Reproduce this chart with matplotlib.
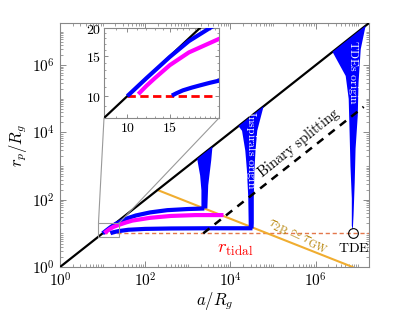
import matplotlib
matplotlib.use("Agg")
import matplotlib.pyplot as plt
import numpy as np
from matplotlib.patches import Rectangle, ConnectionPatch
from matplotlib.ticker import FixedLocator, FixedFormatter, LogLocator, NullFormatter

plt.rcParams['mathtext.fontset'] = 'cm'
plt.rcParams['font.family'] = 'serif'
plt.rcParams['font.serif'] = ['DejaVu Serif']

# ---- data (a/R_g, r_p/R_g) ----
diag_a = [1, 1.8e7]
split_a = [2300, 1.35e7]
split_r = [10, 5.8e4]
tau_a = [195, 7.4e6]
tau_r = [195, 1]
tidal_a = [10, 1.8e7]
tidal_r = [10, 10]

top_a = [10, 12, 15, 18, 22, 35, 60, 130, 330, 1000, 2450]
top_r = [10, 12, 14.9, 17.5, 20, 27, 34, 42, 49, 53, 55]
mag_a = [11.1, 12, 13, 15, 18, 24, 35, 50, 130, 400, 1500, 6900]
mag_r = [10.2, 11.1, 12.0, 13.7, 15.6, 17.9, 21, 24, 29, 33, 35, 35]
low_a = [15.3, 16, 17, 18.5, 20, 22, 24, 40, 100, 400, 3000, 33000]
low_r = [10.05, 10.3, 10.6, 10.9, 11.15, 11.45, 11.7, 12.8, 13.6, 14, 14.2, 14.2]

fan1_left_a = [2090, 2090, 1950, 1660]
fan1_left_r = [55, 190, 525, 1660]
fan1_right_a = [3800, 3550, 3020, 2880]
fan1_right_r = [3800, 1480, 270, 55]

fan2_left_a = [27000, 26900, 26300, 24500, 22400, 18800, 15500]
fan2_left_r = [14, 20, 117, 740, 2880, 11200, 15500]
fan2_right_a = [60300, 42700, 38900, 36700, 35500, 35500, 35000]
fan2_right_r = [60300, 11200, 2880, 740, 117, 20, 14]

fan3_left_a = [7.4e6, 7.1e6, 7.1e6, 6.6e6, 6.3e6, 6.0e6, 5.1e6, 2.5e6]
fan3_left_r = [13, 17, 110, 1e3, 1e4, 1e5, 4.8e5, 2.5e6]
fan3_right_a = [1.5e7, 1.15e7, 1.02e7, 9.8e6, 8.7e6, 8.3e6, 7.8e6, 7.5e6]
fan3_right_r = [1.5e7, 3e6, 3e5, 3.2e4, 3.3e3, 320, 35, 13]

tde_a = [7.6e6]
tde_r = [10]

fig = plt.figure(figsize=(4.15, 3.12), dpi=100)
ax = fig.add_axes([0.1446, 0.1442, 0.7446, 0.782])
ax.set_xscale('log')
ax.set_yscale('log')
ax.set_xlim(1, 1.8e7)
ax.set_ylim(1, 1.8e7)

ax.plot(diag_a, diag_a, color='k', lw=1.6, zorder=3)
ax.plot(tidal_a, tidal_r, color='#e4774c', lw=1.0, dashes=(3, 2), zorder=2)
ax.plot(tau_a, tau_r, color='#f0ad30', lw=1.5, zorder=2)
ax.plot(split_a, split_r, color='k', lw=1.8, dashes=(3.2, 2.6), zorder=4)

for la, lr, ra, rr in [(fan1_left_a, fan1_left_r, fan1_right_a, fan1_right_r),
                       (fan2_left_a, fan2_left_r, fan2_right_a, fan2_right_r),
                       (fan3_left_a, fan3_left_r, fan3_right_a, fan3_right_r)]:
    ax.fill(la + ra, lr + rr, color='#0000ff', lw=0, zorder=3)

ax.plot(top_a, top_r, color='#0000ff', lw=3, zorder=3, solid_capstyle='butt')
ax.plot(mag_a, mag_r, color='#ff00ff', lw=3, zorder=3, solid_capstyle='butt')
ax.plot(low_a, low_r, color='#0000ff', lw=3, zorder=3, solid_capstyle='butt')
ax.plot(tde_a, tde_r, 'o', mfc='none', mec='k', ms=7, mew=0.8, zorder=5)

ax.text(4.0e5, 5.0e3, r'$\mathrm{Binary\ splitting}$', rotation=39, fontsize=10.5,
        ha='center', va='center')
ax.text(3.0e4, 2.9e3, r'$\mathrm{Inspirals\ origin}$', rotation=-90, fontsize=8.5,
        color='white', ha='center', va='center', zorder=6)
ax.text(7.6e6, 5.9e5, r'$\mathrm{TDEs\ origin}$', rotation=-90, fontsize=8.5,
        color='white', ha='center', va='center', zorder=6)
ax.text(1.3e4, 3.4, r'$r_{\rm tidal}$', fontsize=13.5, color='#ff0000',
        ha='center', va='center')
ax.text(3.8e5, 8.0, r'$\tau_{\rm 2B}\simeq\tau_{\rm GW}$', rotation=-25, fontsize=11,
        color='#b8860b', ha='center', va='center')
ax.text(7.8e6, 3.7, r'$\mathrm{TDE}$', fontsize=10, ha='center', va='center')

ax.set_xlabel(r'$a/R_g$', fontsize=12, labelpad=0)
ax.set_ylabel(r'$r_p/R_g$', fontsize=12, labelpad=2)

majors = [1, 1e2, 1e4, 1e6]
major_labels = [r'$10^{0}$', r'$10^{2}$', r'$10^{4}$', r'$10^{6}$']
for axis in [ax.xaxis, ax.yaxis]:
    axis.set_major_locator(FixedLocator(majors))
    axis.set_major_formatter(FixedFormatter(major_labels))
    axis.set_minor_locator(LogLocator(base=10, subs=np.arange(1, 10), numticks=30))
    axis.set_minor_formatter(NullFormatter())
ax.tick_params(which='both', direction='in', top=True, right=True, colors='#777777',
               labelcolor='k', labelsize=11)
ax.tick_params(which='major', length=4, width=0.6)
ax.tick_params(which='minor', length=2, width=0.5)
for s in ax.spines.values():
    s.set_color('#888888')
    s.set_linewidth(0.8)

# zoom box
box_x = [8, 24]
box_y = [8, 20]
ax.add_patch(Rectangle((box_x[0], box_y[0]), box_x[1] - box_x[0], box_y[1] - box_y[0],
                       fill=False, ec='#999999', lw=0.8, zorder=4))

# inset
axins = fig.add_axes([104 / 415, 1 - 118 / 312, 115 / 415, 90 / 312])
axins.set_xscale('log')
axins.set_yscale('log')
axins.plot(diag_a, diag_a, color='k', lw=1.6, zorder=3)
axins.plot([10, 22.5], [10, 10], color='#ff0000', lw=2, dashes=(3, 1.6), zorder=2)
axins.plot(top_a, top_r, color='#0000ff', lw=3, zorder=3, solid_capstyle='butt')
axins.plot(mag_a, mag_r, color='#ff00ff', lw=3, zorder=3, solid_capstyle='butt')
axins.plot(low_a, low_r, color='#0000ff', lw=3, zorder=3, solid_capstyle='butt')
axins.set_xlim(box_x)
axins.set_ylim(box_y)
axins.xaxis.set_major_locator(FixedLocator([10, 15]))
axins.xaxis.set_major_formatter(FixedFormatter([r'$10$', r'$15$']))
axins.yaxis.set_major_locator(FixedLocator([10, 15, 20]))
axins.yaxis.set_major_formatter(FixedFormatter([r'$10$', r'$15$', r'$20$']))
for axis in [axins.xaxis, axins.yaxis]:
    axis.set_minor_locator(FixedLocator(np.arange(8, 25)))
    axis.set_minor_formatter(NullFormatter())
axins.tick_params(which='both', direction='in', top=True, right=True, colors='#777777',
                  labelcolor='k', labelsize=10, pad=2)
axins.tick_params(which='major', length=3, width=0.6)
axins.tick_params(which='minor', length=1.5, width=0.5)
for s in axins.spines.values():
    s.set_color('#888888')
    s.set_linewidth(0.8)

for xa, xi in [(box_x[0], box_x[0]), (box_x[1], box_x[1])]:
    con = ConnectionPatch(xyA=(xa, box_y[1]), coordsA=ax.transData,
                          xyB=(xi, box_y[0]), coordsB=axins.transData,
                          color='#999999', lw=0.8)
    fig.add_artist(con)

fig.savefig('out.png', dpi=100)
